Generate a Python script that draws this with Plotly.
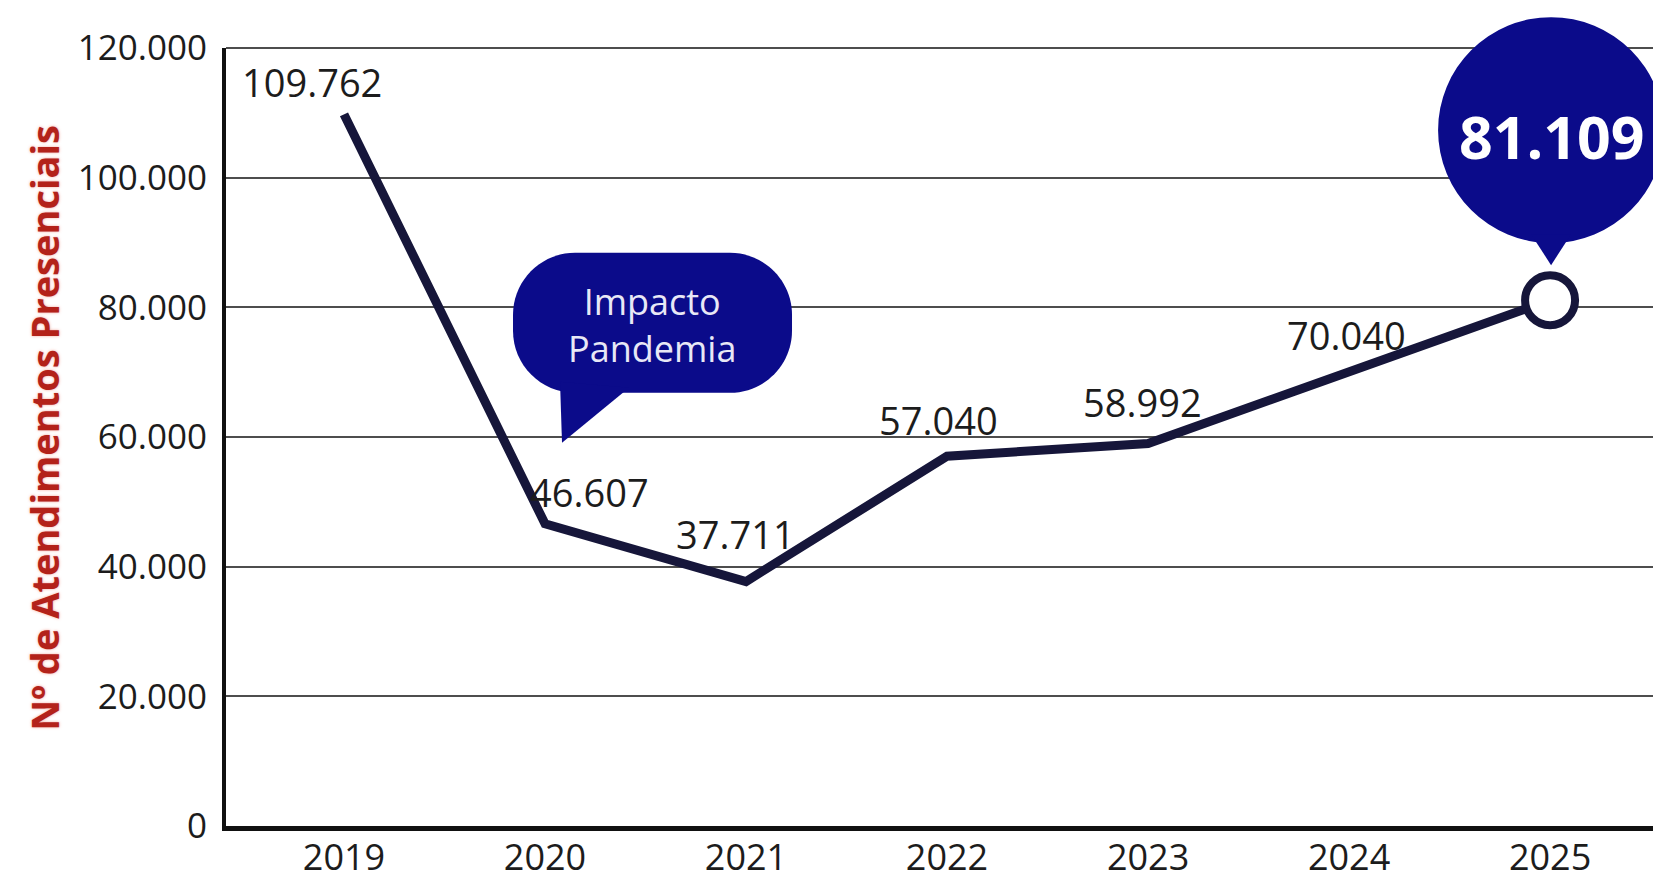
import plotly.graph_objects as go

# ---------------- data ----------------
years = [2019, 2020, 2021, 2022, 2023, 2024, 2025]
year_labels = ["2019", "2020", "2021", "2022", "2023", "2024", "2025"]
atendimentos = [109762, 46607, 37711, 57040, 58992, 70040, 81109]
y_ticks = [0, 20000, 40000, 60000, 80000, 100000, 120000]
y_title = "Nº de Atendimentos Presenciais"
callout_lines = ["Impacto", "Pandemia"]
callout_year = 2020

# ---------------- style ----------------
LINE = "#16163a"
NAVY = "#0b0b8a"
TEXT = "#1c1c1c"
FONT = "Open Sans"
label_offsets = [(-32, 32), (44, 32), (-11, 48), (-9, 36), (-6, 42), (-3, 37)]  # px shifts (x, up)
ymax = y_ticks[-1]


def fmt(v):
    return f"{v:,}".replace(",", ".")


def rounded_rect(x0, x1, y0, y1, r):
    k = 0.5523 * r
    return (f"M{x0 + r},{y0} L{x1 - r},{y0} C{x1 - r + k},{y0} {x1},{y0 + r - k} {x1},{y0 + r} "
            f"L{x1},{y1 - r} C{x1},{y1 - r + k} {x1 - r + k},{y1} {x1 - r},{y1} "
            f"L{x0 + r},{y1} C{x0 + r - k},{y1} {x0},{y1 - r + k} {x0},{y1 - r} "
            f"L{x0},{y0 + r} C{x0},{y0 + r - k} {x0 + r - k},{y0} {x0 + r},{y0} Z")


fig = go.Figure()
fig.add_trace(go.Scatter(x=years, y=atendimentos, mode="lines",
                         line=dict(color=LINE, width=9), hoverinfo="skip"))
fig.add_trace(go.Scatter(x=[years[-1]], y=[atendimentos[-1]], mode="markers",
                         marker=dict(size=50, color="white", line=dict(color=LINE, width=8)),
                         hoverinfo="skip"))

annotations = []
# value labels
for yr, v, (dx, dy) in zip(years[:-1], atendimentos[:-1], label_offsets):
    annotations.append(dict(x=yr, y=v, xref="x", yref="y", text=fmt(v), showarrow=False,
                            xanchor="center", yanchor="middle", xshift=dx, yshift=dy,
                            font=dict(family=FONT, size=38, color=TEXT)))

# big bubble text
annotations.append(dict(x=years[-1], y=atendimentos[-1], xref="x", yref="y",
                        text=fmt(atendimentos[-1]), showarrow=False, xanchor="center",
                        yanchor="middle", xshift=2, yshift=164,
                        font=dict(family=FONT, size=59, color="white", weight="bold")))

# callout text
ci = years.index(callout_year)
annotations.append(dict(x=callout_year, y=atendimentos[ci], xref="x", yref="y",
                        text="<br>".join(callout_lines), showarrow=False, xanchor="center",
                        yanchor="middle", xshift=107, yshift=199,
                        font=dict(family=FONT, size=36, color="#e8e8f6")))

# y title
annotations.append(dict(x=0, y=0.512, xref="paper", yref="paper", text=y_title,
                        textangle=-90, showarrow=False, xanchor="center", yanchor="middle",
                        xshift=-182,
                        font=dict(family=FONT, size=38, color="#b3221a", weight="bold",
                                  shadow="0px 0px 3px rgba(235,90,70,0.55)")))

shapes = []
# top gridline (120.000) across the full width
shapes.append(dict(type="line", xref="paper", yref="paper", x0=0, x1=1, y0=1, y1=1,
                   line=dict(color="#4d4d4d", width=2), layer="below"))
# callout bubble (pixel offsets relative to the 2020 point)
shapes.append(dict(type="path", xref="x", yref="paper", xsizemode="pixel", ysizemode="pixel",
                   xanchor=callout_year, yanchor=atendimentos[ci] / ymax,
                   path=rounded_rect(-32, 247, 131, 271, 62),
                   fillcolor=NAVY, line=dict(width=0), layer="above"))
shapes.append(dict(type="path", xref="x", yref="paper", xsizemode="pixel", ysizemode="pixel",
                   xanchor=callout_year, yanchor=atendimentos[ci] / ymax,
                   path="M15,142 L84,136 L17,81 Z",
                   fillcolor=NAVY, line=dict(width=0), layer="above"))
# big bubble relative to last point
shapes.append(dict(type="circle", xref="x", yref="paper", xsizemode="pixel", ysizemode="pixel",
                   xanchor=years[-1], yanchor=atendimentos[-1] / ymax,
                   x0=-112, x1=114, y0=57, y1=283,
                   fillcolor=NAVY, line=dict(width=0), layer="above"))
shapes.append(dict(type="path", xref="x", yref="paper", xsizemode="pixel", ysizemode="pixel",
                   xanchor=years[-1], yanchor=atendimentos[-1] / ymax,
                   path="M-19,66 L21,66 L1,35 Z",
                   fillcolor=NAVY, line=dict(width=0), layer="above"))

fig.update_layout(
    width=1653, height=883,
    margin=dict(l=226, r=0, t=48, b=57),
    paper_bgcolor="white", plot_bgcolor="white",
    showlegend=False, separators=",.",
    font=dict(family=FONT, color=TEXT),
    annotations=annotations, shapes=shapes,
    xaxis=dict(range=[2018.413, 2025.512], tickvals=years, ticktext=year_labels,
               showgrid=False, zeroline=False, showline=True, linecolor="#111",
               linewidth=5, ticks="", ticklabelstandoff=-4, automargin=False,
               tickfont=dict(family=FONT, size=36, color=TEXT)),
    yaxis=dict(range=[0, ymax], tickvals=y_ticks, tickformat=",.0f",
               showgrid=True, gridcolor="#4d4d4d", gridwidth=2, zeroline=False,
               showline=True, linecolor="#111", linewidth=4, ticks="",
               ticklabelstandoff=8, automargin=False,
               tickfont=dict(family=FONT, size=35, color=TEXT)),
)

fig.write_html("out.html")
